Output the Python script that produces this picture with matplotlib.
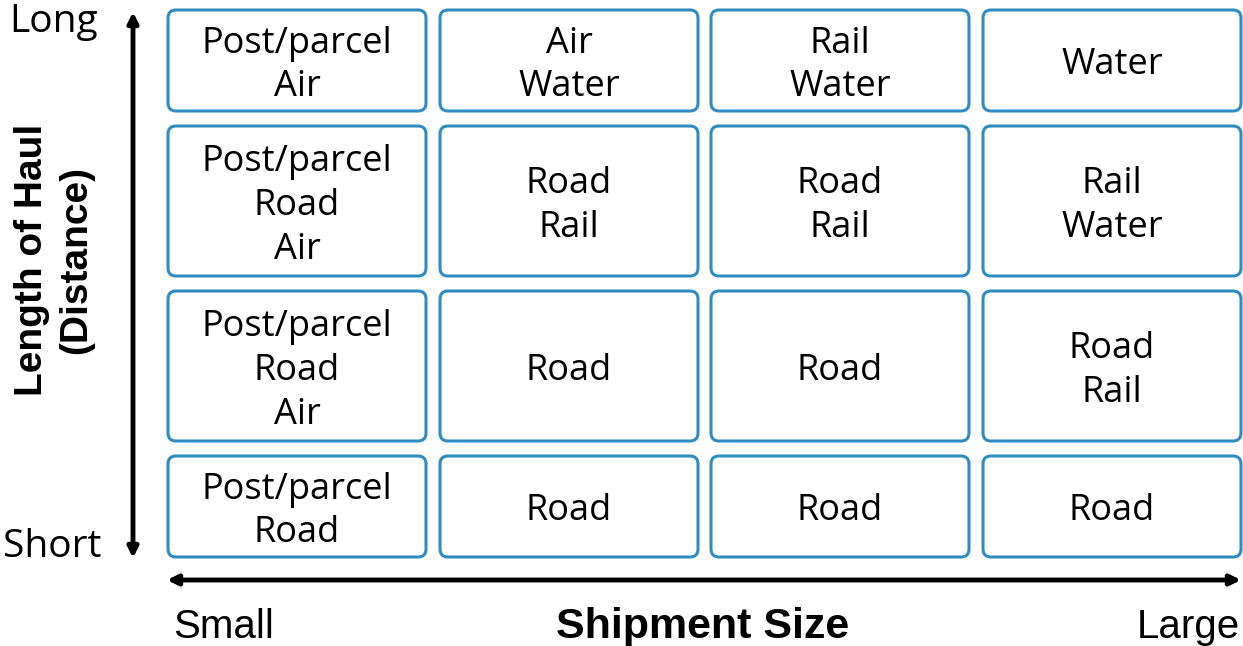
import matplotlib
matplotlib.use("Agg")
import matplotlib.pyplot as plt
from matplotlib.patches import FancyBboxPatch

# grid content, top row = long haul, left column = small shipments
cells = [
    ["Post/parcel\nAir", "Air\nWater", "Rail\nWater", "Water"],
    ["Post/parcel\nRoad\nAir", "Road\nRail", "Road\nRail", "Rail\nWater"],
    ["Post/parcel\nRoad\nAir", "Road", "Road", "Road\nRail"],
    ["Post/parcel\nRoad", "Road", "Road", "Road"],
]
x_label = "Shipment Size"
y_label = "Length of Haul\n(Distance)"
x_ends = ["Small", "Large"]
y_ends = ["Long", "Short"]

W, H = 1243, 646
fig = plt.figure(figsize=(W / 100, H / 100), dpi=100)
ax = fig.add_axes([0, 0, 1, 1])
ax.set_xlim(0, W)
ax.set_ylim(H, 0)
ax.axis("off")

col_x = [168, 440, 711, 983]
col_w = 258
row_y = [10, 126, 291, 456]
row_h = [101, 150, 150, 101]
blue = "#2f8cc3"
cell_font = "Open Sans"

for r, row in enumerate(cells):
    for c, txt in enumerate(row):
        x0, y0, h = col_x[c], row_y[r], row_h[r]
        box = FancyBboxPatch((x0 + 4, y0 + 4), col_w - 8, h - 8,
                             boxstyle="round,pad=4,rounding_size=8",
                             fc="white", ec=blue, lw=2.2)
        ax.add_patch(box)
        ax.text(x0 + col_w / 2, y0 + h / 2 + 5, txt, ha="center", va="center",
                fontsize=26, family=cell_font, linespacing=1.28, color="black")

# axis arrows
ax.annotate("", xy=(133, 12), xytext=(133, 558),
            arrowprops=dict(arrowstyle="<|-|>,head_length=0.6,head_width=0.3",
                            lw=3.5, color="black", shrinkA=0, shrinkB=0))
ax.annotate("", xy=(1241, 580), xytext=(167, 580),
            arrowprops=dict(arrowstyle="<|-|>,head_length=0.6,head_width=0.3",
                            lw=3.5, color="black", shrinkA=0, shrinkB=0))

ax.text(54, 22, y_ends[0], ha="center", va="center", fontsize=28, family=cell_font)
ax.text(52, 547, y_ends[1], ha="center", va="center", fontsize=28, family=cell_font)
ax.text(173, 627, x_ends[0], ha="left", va="center", fontsize=29, family="Liberation Sans")
ax.text(1240, 627, x_ends[1], ha="right", va="center", fontsize=29, family="Liberation Sans")
ax.text(703, 627, x_label, ha="center", va="center", fontsize=31,
        family="Liberation Sans", fontweight="bold")
ax.text(54, 260, y_label, ha="center", va="center", rotation=90, fontsize=28,
        family="Liberation Sans", fontweight="bold", linespacing=1.3)

fig.savefig("out.png", dpi=100)
